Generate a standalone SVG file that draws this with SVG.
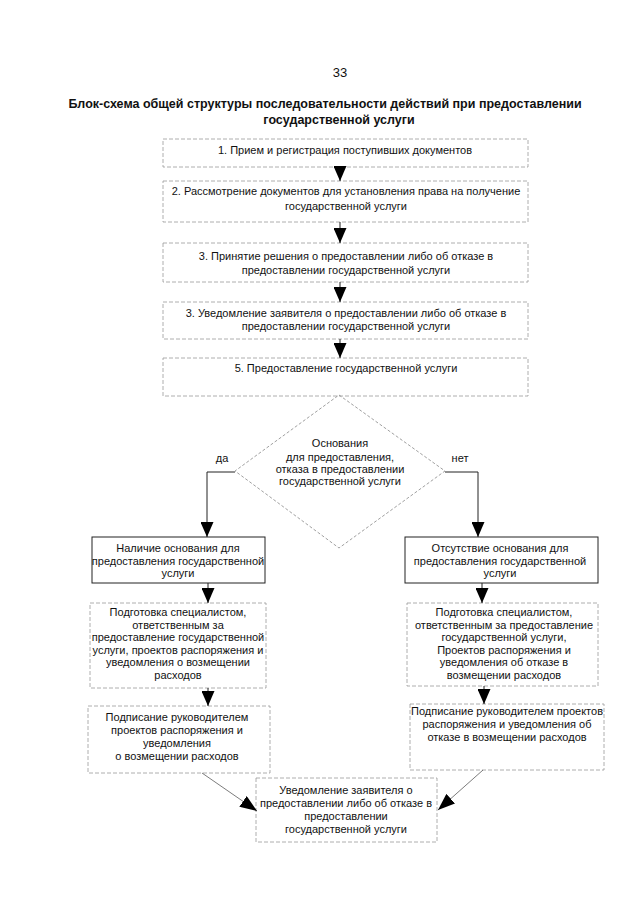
<svg xmlns="http://www.w3.org/2000/svg" width="640" height="905" viewBox="0 0 640 905">
<style>
text{font-family:"Liberation Sans",Arial,sans-serif;font-size:11px;fill:#111;text-anchor:middle}
.title{font-weight:bold;font-size:12.5px}
.pg{font-size:13px}
.box{fill:#fff;stroke:#999;stroke-width:0.8;stroke-dasharray:4 2}
.solid{fill:#fff;stroke:#222;stroke-width:1}
.dia{fill:none;stroke:#888;stroke-width:0.8;stroke-dasharray:3 2}
.con{fill:none;stroke:#222;stroke-width:1}
.thin{fill:none;stroke:#444;stroke-width:0.7}
</style>
<defs>
<marker id="ah" viewBox="0 0 15 13" refX="15" refY="6.5" markerWidth="15" markerHeight="13" markerUnits="userSpaceOnUse" orient="auto">
<path d="M0,0 L15,6.5 L0,13 z" fill="#000"/>
</marker>
<marker id="ahd" viewBox="0 0 17 13" refX="17" refY="6.5" markerWidth="17" markerHeight="13" markerUnits="userSpaceOnUse" orient="auto">
<path d="M0,0 L17,6.5 L0,13 z" fill="#000"/>
</marker>
</defs>
<rect width="640" height="905" fill="#fff"/>
<text class="pg" x="340" y="77">33</text>
<text class="title" x="325" y="108">Блок-схема общей структуры последовательности действий при предоставлении</text>
<text class="title" x="339" y="124">государственной услуги</text>

<g id="n1"><rect class="box" x="163" y="139" width="365" height="28"/><text x="345" y="154">1. Прием и регистрация поступивших документов</text></g>
<g id="n2"><rect class="box" x="163" y="181" width="365" height="41"/><text x="346" y="195">2. Рассмотрение документов для установления права на получение</text><text x="346" y="210">государственной услуги</text></g>
<g id="n3"><rect class="box" x="163" y="243" width="365" height="39"/><text x="346" y="260">3. Принятие решения о предоставлении либо об отказе в</text><text x="346" y="274">предоставлении государственной услуги</text></g>
<g id="n4"><rect class="box" x="163" y="302" width="365" height="37"/><text x="346" y="317">3. Уведомление заявителя о предоставлении либо об отказе в</text><text x="346" y="330">предоставлении государственной услуги</text></g>
<g id="n5"><rect class="box" x="163" y="358" width="365" height="38"/><text x="346" y="372">5. Предоставление государственной услуги</text></g>
<g id="d1"><polygon class="dia" points="339,395 445,471 339,548 235,471"/><text x="340" y="447">Основания</text><text x="340" y="461">для предоставления,</text><text x="340" y="473">отказа в предоставлении</text><text x="340" y="485">государственной услуги</text></g>
<g id="l1"><rect class="solid" x="92" y="537" width="173" height="46"/><text x="178" y="552">Наличие основания для</text><text x="178" y="565">предоставления государственной</text><text x="178" y="577">услуги</text></g>
<g id="l2"><rect class="box" x="90" y="603" width="176" height="85"/><text x="178" y="616">Подготовка специалистом,</text><text x="178" y="629">ответственным за</text><text x="178" y="641">предоставление государственной</text><text x="178" y="654">услуги, проектов распоряжения и</text><text x="178" y="666">уведомления о возмещении</text><text x="178" y="679">расходов</text></g>
<g id="l3"><rect class="box" x="88" y="706" width="182" height="67"/><text x="177" y="721">Подписание руководителем</text><text x="177" y="734">проектов распоряжения и</text><text x="177" y="747">уведомления</text><text x="177" y="760">о возмещении расходов</text></g>
<g id="r1"><rect class="solid" x="405" y="537" width="193" height="46"/><text x="500" y="552">Отсутствие основания для</text><text x="500" y="565">предоставления государственной</text><text x="500" y="577">услуги</text></g>
<g id="r2"><rect class="box" x="407" y="603" width="191" height="83"/><text x="504" y="616">Подготовка специалистом,</text><text x="504" y="629">ответственным за предоставление</text><text x="504" y="641">государственной услуги,</text><text x="504" y="654">Проектов распоряжения и</text><text x="504" y="666">уведомления об отказе в</text><text x="504" y="679">возмещении расходов</text></g>
<g id="r3"><rect class="box" x="410" y="704" width="194" height="66"/><text x="507" y="715">Подписание руководителем проектов</text><text x="507" y="728">распоряжения и уведомления об</text><text x="507" y="741">отказе в возмещении расходов</text></g>
<g id="b1"><rect class="box" x="256" y="778" width="181" height="64"/><text x="346" y="794">Уведомление заявителя о</text><text x="346" y="807">предоставлении либо об отказе в</text><text x="346" y="820">предоставлении</text><text x="346" y="833">государственной услуги</text></g>

<g id="connectors">
<line class="con" x1="340" y1="167" x2="340" y2="181" marker-end="url(#ah)"/>
<line class="con" x1="340" y1="222" x2="340" y2="243" marker-end="url(#ah)"/>
<line class="con" x1="340" y1="282" x2="340" y2="302" marker-end="url(#ah)"/>
<line class="con" x1="340" y1="339" x2="340" y2="358" marker-end="url(#ah)"/>
<polyline class="con" points="235,472 207,472 207,537" marker-end="url(#ah)"/>
<polyline class="con" points="445,472 478,472 478,537" marker-end="url(#ah)"/>
<line class="con" x1="208" y1="583" x2="208" y2="603" marker-end="url(#ah)"/>
<line class="con" x1="208" y1="688" x2="208" y2="706" marker-end="url(#ah)"/>
<line class="con" x1="482" y1="583" x2="482" y2="603" marker-end="url(#ah)"/>
<line class="con" x1="484" y1="686" x2="484" y2="704" marker-end="url(#ah)"/>
<line class="thin" x1="202" y1="773" x2="257" y2="811" marker-end="url(#ahd)"/>
<line class="thin" x1="483" y1="770" x2="438" y2="810" marker-end="url(#ahd)"/>
<text x="222" y="462">да</text>
<text x="460" y="462">нет</text>
</g>
</svg>
